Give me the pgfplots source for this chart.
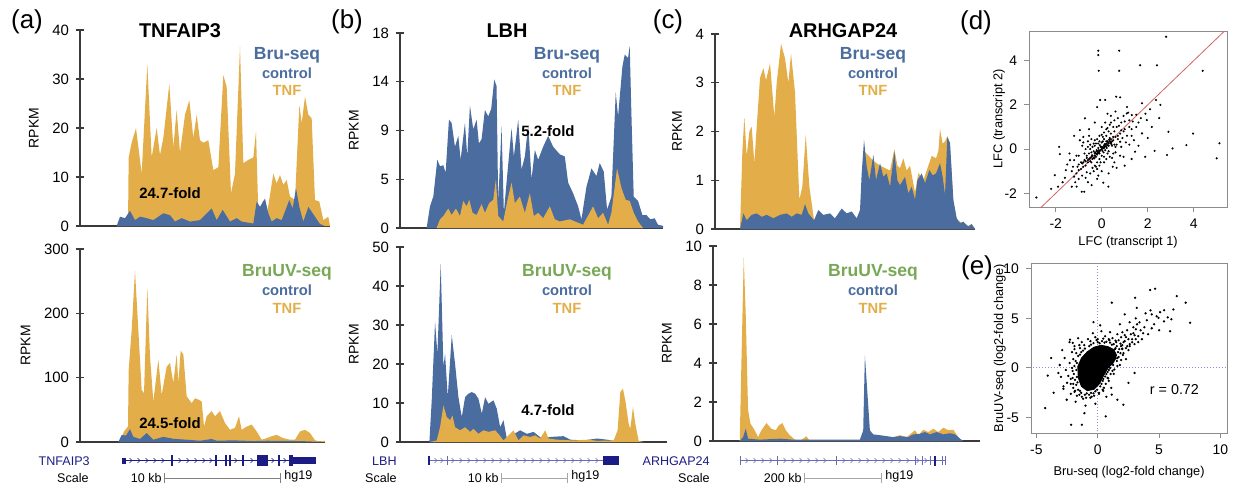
\documentclass[border=0pt]{standalone}
\usepackage{fontspec}
\setmainfont{Liberation Sans}
\usepackage{pgfplots}
\pgfplotsset{compat=1.18}
\definecolor{tnf}{HTML}{E3AE4A}
\definecolor{ctl}{HTML}{4A6C9F}
\definecolor{uvg}{HTML}{78A855}
\definecolor{gene}{HTML}{1C1C85}
\definecolor{genel}{HTML}{6A6AB5}
\definecolor{axgray}{HTML}{3A3A3A}
\definecolor{diag}{HTML}{D46262}
\definecolor{zeroline}{HTML}{8C8CE6}

\newcommand{\fs}[1]{\fontsize{#1}{#1}\selectfont}

\pgfplotsset{
  trk/.style={
    scale only axis, anchor=south west,
    axis x line=bottom, axis y line=left,
    axis line style={-, draw=axgray, line width=0.7bp},
    xtick=\empty, ymin=0,
    tick align=center, major tick length=4bp,
    ytick style={draw=axgray, line width=0.7bp},
    tick label style={font=\fs{7.5}},
    /pgf/number format/assume math mode=true,
    ylabel={RPKM}, ylabel style={font=\fs{7}},
    clip=false,
  },
  sct/.style={
    scale only axis, anchor=south west,
    axis line style={draw=gray!90, line width=0.5bp},
    tick align=outside, tick pos=left, major tick length=2.5bp,
    tick style={draw=gray!90, line width=0.5bp},
    tick label style={font=\fs{7}},
    label style={font=\fs{6.4}},
    /pgf/number format/assume math mode=true,
  },
  tnfa/.style={fill=tnf, draw=none},
  ctla/.style={fill=ctl, draw=none},
}

\begin{document}
\begin{tikzpicture}[x=0.5bp, y=-0.5bp]
\path[use as bounding box] (0,0) rectangle (1240,487);

% ---------- (a) top: TNFAIP3 Bru-seq
\begin{axis}[trk, at={(40bp,-113bp)}, width=125bp, height=98bp,
  xmin=240, xmax=990, ymax=40, ytick={0,10,20,30,40}]
\addplot[tnfa] coordinates {(350,0)(384,0)(386,14)(395,17)(408,20)(425,10.7)(442,33)(455,14)(470,20)(480,14.5)(490,18)(508,29)(520,16)(530,23.7)(540,15)(555,22.7)(568,25.7)(580,18)(590,22.7)(600,17.5)(610,17)(625,17.5)(640,11.4)(655,12)(670,30.8)(680,28.4)(693,6.7)(705,10.7)(720,36.6)(730,12.8)(745,13.5)(760,14)(768,19.3)(775,2.6)(790,5.3)(800,2)(820,10.7)(830,8.7)(840,10.4)(850,8.4)(860,9.4)(870,6)(885,5.3)(898,24.7)(905,21)(915,26.4)(925,22.7)(935,22)(945,5.3)(958,5)(970,1.2)(985,1.9)(990,0)} \closedcycle;
\addplot[ctla] coordinates {(350,0)(360,1.9)(375,1.6)(390,3.1)(405,1.2)(420,1.9)(440,1.6)(460,1.2)(490,2.6)(510,2.2)(525,0.9)(545,1.6)(570,0.9)(600,1.2)(635,3.6)(650,1.2)(668,3.3)(690,0.9)(710,1.6)(725,0.9)(760,0.5)(770,5)(780,3.9)(795,5.6)(805,2.6)(815,0.9)(830,1.6)(845,1.2)(868,5.3)(878,3.6)(888,7.7)(898,3.9)(910,0.9)(925,3.9)(945,1.9)(960,0.4)(975,0)} \closedcycle;
\end{axis}

% ---------- (a) bottom: TNFAIP3 BruUV-seq
\begin{axis}[trk, at={(40bp,-221bp)}, width=122.5bp, height=96.5bp,
  xmin=240, xmax=975, ymax=300, ytick={0,100,200,300}]
\addplot[tnfa] coordinates {(360,0)(372,16.5)(384,24)(386,112)(395,174)(405,266)(415,174)(425,81)(432,76)(442,240)(450,133)(460,63)(475,128)(485,73)(500,117)(510,123)(520,92)(530,136)(535,92)(542,142)(550,136)(560,71)(575,60.5)(585,68)(595,66)(605,63)(612,24)(620,40)(635,48)(645,40)(660,48)(675,29.5)(690,19)(705,22)(717,40)(725,19)(740,24)(755,27)(770,16.5)(785,3.6)(800,6)(815,9)(830,11)(850,6)(870,3.6)(885,3.6)(900,16.5)(915,19)(930,14)(945,2.6)(960,1)(975,2)(975,0)} \closedcycle;
\addplot[ctla] coordinates {(355,0)(365,11)(378,10)(390,20)(400,8)(420,4.7)(440,14)(460,3.6)(490,8)(520,5)(560,3.6)(600,2)(635,4.7)(650,2)(700,2.6)(760,1.5)(800,2)(900,1.5)(950,0.5)(960,0)} \closedcycle;
\end{axis}

% ---------- (b) top: LBH Bru-seq
\begin{axis}[trk, at={(200bp,-114bp)}, width=131.5bp, height=97.5bp,
  xmin=210, xmax=1000, ymax=18, ytick={0,4.5,9,13.5,18}, yticklabels={0,5,9,14,18}]
\addplot[ctla] coordinates {(290,0)(300,2)(310,2.9)(322,6.3)(330,5.7)(340,5.8)(347,5.1)(357,10)(365,9.7)(375,7.5)(385,8.5)(392,6.3)(405,9.7)(412,6.6)(420,11.3)(430,9.1)(440,10)(447,7.8)(455,8.2)(465,10.9)(475,10.3)(484,11)(493,13.7)(500,13.1)(505,2.3)(515,9.4)(522,1.4)(530,4.2)(545,9.2)(552,6.6)(565,10)(575,5.4)(585,6.6)(595,9.5)(605,4.5)(615,7.2)(625,6.3)(640,7.5)(655,8.5)(670,7.5)(690,6.8)(705,6.6)(715,4.2)(730,3.2)(745,2)(755,0.8)(770,3.8)(785,5.5)(800,4.8)(810,6)(822,5.2)(832,1.7)(845,2.9)(858,12.5)(865,10.3)(878,14.9)(885,16)(895,15.7)(900,16.8)(905,10.6)(912,2.9)(925,2.5)(938,1.2)(950,1.2)(962,0.8)(975,0.9)(985,0.3)(1000,0.2)(1000,0)} \closedcycle;
\addplot[tnfa] coordinates {(320,0)(330,0.8)(340,1.1)(355,1.8)(365,1.2)(378,1.8)(390,1.1)(400,2.5)(410,2)(418,2.6)(428,1.4)(440,1.2)(455,2.2)(465,1.4)(478,2.3)(490,2.6)(498,4.5)(505,1.1)(520,0.6)(533,2.6)(545,4.2)(555,2.3)(570,2.9)(585,1.4)(600,3.2)(612,1.1)(625,1.4)(640,0.9)(660,2)(675,0.8)(690,0.6)(720,0.8)(760,0.3)(790,2)(805,0.9)(820,1.4)(835,0.3)(845,1.4)(862,5.5)(875,3.7)(888,2.6)(900,2.5)(912,1.4)(925,0.6)(940,0)} \closedcycle;
\end{axis}

% ---------- (b) bottom: LBH BruUV-seq
\begin{axis}[trk, at={(200bp,-221bp)}, width=133.5bp, height=97.5bp,
  xmin=210, xmax=1010, ymax=50, ytick={0,10,20,30,40,50}]
\addplot[ctla] coordinates {(298,0)(305,10.7)(315,30.8)(322,22.6)(332,45.7)(340,19.2)(345,22.6)(353,11.5)(365,27.4)(375,20)(385,11.5)(395,6.4)(405,11.5)(415,12.4)(425,12.8)(435,12.4)(445,11.1)(455,7.3)(465,11.5)(475,9.8)(490,10.7)(500,8.5)(510,3.8)(520,5.6)(530,0.9)(545,1.7)(570,3)(590,2.1)(610,2.6)(635,0.9)(660,1.3)(700,1.5)(720,0.6)(760,0.4)(800,0.9)(830,0.6)(850,0.3)(870,0)} \closedcycle;
\addplot[tnfa] coordinates {(300,0)(320,0.4)(330,3.8)(340,9.4)(350,6.4)(360,5.6)(367,6.8)(375,3.8)(390,3)(405,3.8)(420,2.6)(430,3.4)(445,2.1)(460,3)(475,2.6)(495,3)(505,2.1)(520,0.4)(535,1.7)(550,3)(565,0.4)(580,1.7)(600,1.3)(615,1.7)(630,0.9)(645,3)(655,0.9)(680,0.6)(730,0.4)(775,0.6)(800,0.3)(850,0.4)(862,3)(870,12.8)(878,13.7)(885,10.7)(895,4.7)(900,3.4)(908,9)(915,4.7)(925,0.3)(940,0)} \closedcycle;
\end{axis}

% ---------- (c) top: ARHGAP24 Bru-seq
\begin{axis}[trk, at={(357.5bp,-114.5bp)}, width=130bp, height=97.5bp,
  xmin=165, xmax=945, ymax=4, ytick={0,1,2,3,4}]
\addplot[tnfa] coordinates {(240,0)(247,1.6)(253,2.3)(260,1.5)(268,2.0)(275,2.1)(283,1.35)(290,2.1)(300,3.1)(310,3.3)(318,3.05)(330,3.4)(343,2.3)(350,3.0)(363,3.8)(375,3.5)(385,3.0)(393,3.6)(405,2.8)(418,0.6)(427,0.87)(437,1.93)(448,0.87)(462,0.18)(470,0)(600,0)(604,0.3)(612,1.6)(640,1.4)(660,1.3)(690,1.2)(703,1.64)(712,1.3)(720,1.25)(730,1.45)(740,1.2)(750,1.3)(765,0.75)(775,1.15)(790,1.0)(805,1.3)(815,1.5)(828,1.45)(835,1.6)(840,2.05)(848,1.75)(855,1.8)(862,1.9)(870,1.7)(880,0.55)(890,0.2)(920,0.05)(935,0.1)(945,0)} \closedcycle;
\addplot[ctla] coordinates {(240,0)(250,0.32)(260,0.18)(275,0.29)(290,0.32)(305,0.25)(320,0.29)(340,0.22)(360,0.29)(380,0.32)(395,0.25)(410,0.32)(425,0.29)(435,0.51)(445,0.32)(462,0.18)(475,0.39)(490,0.29)(510,0.32)(525,0.22)(545,0.42)(560,0.32)(575,0.36)(590,0.22)(600,0.39)(605,1.14)(612,1.83)(620,1.28)(628,1.0)(640,1.52)(648,1.0)(660,1.35)(670,1.07)(680,1.14)(690,0.87)(703,1.59)(712,1.0)(720,0.9)(735,1.07)(745,0.73)(755,0.87)(765,0.6)(772,1.0)(785,1.14)(795,0.94)(808,1.21)(818,1.1)(828,1.14)(840,1.35)(848,1.07)(855,0.7)(862,1.9)(870,1.76)(880,0.6)(890,0.22)(900,0.12)(910,0.15)(925,0.05)(935,0.1)(945,0)} \closedcycle;
\end{axis}

% ---------- (c) bottom: ARHGAP24 BruUV-seq
\begin{axis}[trk, at={(356.5bp,-220.5bp)}, width=133.5bp, height=97.5bp,
  xmin=160, xmax=960, ymax=10, ytick={0,2,4,6,8,10}]
\addplot[tnfa] coordinates {(240,0)(245,4)(252,9.4)(258,6.5)(265,1.6)(272,0.9)(285,0.55)(295,0.2)(305,0.55)(320,0.92)(335,0.63)(348,0.55)(357,0.8)(368,0.92)(378,0.55)(390,0.3)(405,0.07)(420,0)(440,0.24)(450,0)(690,0)(700,0.2)(720,0.3)(740,0.2)(765,0.55)(775,0.3)(790,0.58)(805,0.46)(820,0.63)(835,0.46)(850,0.68)(865,0.55)(880,0.58)(895,0.2)(905,0)} \closedcycle;
\addplot[ctla] coordinates {(240,0)(250,0.2)(258,0.63)(265,0.12)(300,0.07)(360,0.12)(400,0.07)(480,0.07)(600,0.07)(610,0.55)(615,4.4)(622,2.6)(630,0.55)(640,0.34)(660,0.3)(680,0.25)(700,0.2)(720,0.25)(745,0.2)(760,0.34)(780,0.37)(795,0.46)(810,0.34)(830,0.46)(850,0.34)(870,0.4)(885,0.34)(900,0.12)(910,0)} \closedcycle;
\end{axis}

% ---------- (d) scatter LFC
\begin{axis}[sct, at={(514.5bp,-103.5bp)}, width=99bp, height=88bp,
  xmin=-3.16, xmax=5.45, ymin=-2.62, ymax=5.34,
  xtick={-2,0,2,4}, ytick={-2,0,2,4},
  xlabel={LFC (transcript 1)}, ylabel={LFC (transcript 2)},
  xlabel style={yshift=3bp}, ylabel style={yshift=-7bp}]
\addplot[only marks, mark=*, mark size=0.3bp, black] coordinates {
(-0.1,-0.1)(0.05,0.02)(0.1,0.15)(-0.2,-0.25)(0.2,0.1)(-0.3,-0.2)(0.3,0.25)(-0.05,0.1)(0.15,-0.05)(-0.15,0.05)
(0.25,0.35)(-0.25,-0.35)(0.4,0.3)(-0.4,-0.45)(0.35,0.5)(-0.35,-0.1)(0.5,0.4)(-0.5,-0.4)(0.45,0.15)(-0.45,-0.6)
(0.6,0.55)(-0.6,-0.5)(0.1,0.45)(-0.1,-0.45)(0.3,-0.1)(-0.3,0.15)(0.55,0.8)(-0.55,-0.2)(0.7,0.45)(-0.7,-0.75)
(0.0,0.3)(0.0,-0.3)(0.2,0.6)(-0.2,-0.6)(0.4,0.7)(-0.4,0.1)(0.65,0.2)(-0.65,-0.3)(0.8,0.7)(-0.8,-0.6)
(0.1,-0.35)(-0.1,0.35)(0.25,-0.2)(-0.25,0.25)(0.5,1.0)(-0.5,0.2)(0.9,0.5)(-0.9,-0.9)(0.75,1.05)(-0.75,-0.2)
(1.0,0.9)(-1.0,-0.7)(0.2,0.9)(-0.2,-0.9)(0.6,-0.15)(-0.6,0.35)(1.1,0.6)(-1.1,-1.1)(0.35,1.1)(-0.35,-1.0)
(0.05,0.55)(-0.05,-0.6)(0.45,-0.4)(-0.45,0.45)(1.2,1.3)(-1.2,-0.5)(0.85,0.1)(-0.85,0.15)(0.15,1.2)(-0.15,-1.2)
(1.3,0.9)(-1.3,-1.0)(0.7,1.4)(-0.7,-1.3)(0.95,1.5)(-0.95,0.4)(1.4,0.4)(-1.4,-0.2)(0.3,0.8)(-0.3,-0.75)
(0.55,-0.6)(-0.55,0.6)(1.15,1.65)(-1.15,-1.5)(0.0,1.0)(0.0,-1.0)(0.8,-0.3)(-0.8,0.55)(1.6,1.2)(-1.6,-1.3)
(0.12,0.22)(-0.12,-0.18)(0.22,0.05)(-0.22,-0.05)(0.08,-0.15)(-0.08,0.18)(0.32,0.42)(-0.32,-0.42)(0.42,0.22)(-0.42,-0.28)
(-0.6,-0.6)(-0.55,-0.45)(-0.5,-0.55)(-0.45,-0.35)(-0.4,-0.3)(-0.35,-0.4)(-0.3,-0.3)(-0.28,-0.15)(-0.25,-0.2)(-0.2,-0.1)
(-0.18,-0.2)(-0.15,-0.15)(-0.12,-0.05)(-0.1,-0.2)(-0.05,-0.05)(0.0,0.0)(0.0,0.1)(0.03,-0.08)(0.06,0.08)(0.1,0.05)
(0.12,0.1)(0.15,0.2)(0.18,0.12)(0.2,0.25)(0.24,0.18)(0.28,0.3)(0.3,0.15)(0.35,0.35)(0.38,0.28)(0.4,0.45)
(0.45,0.35)(0.5,0.55)(-0.65,-0.4)(-0.7,-0.55)(-0.75,-0.5)(-0.8,-0.8)(-0.85,-0.65)(-0.9,-0.6)(-1.0,-0.95)(-1.05,-0.8)
(-0.3,0.4)(-0.2,0.45)(-0.1,0.6)(0.0,0.65)(0.1,0.75)(0.25,0.95)(0.4,1.2)(0.55,1.3)(0.65,1.0)(0.85,1.2)
(1.0,1.25)(1.05,0.3)(0.95,0.8)(0.6,0.1)(0.5,-0.2)(0.35,-0.35)(0.2,-0.45)(0.1,-0.6)(-0.1,-0.75)(-0.25,-0.8)
(-0.4,-0.85)(-0.5,-1.1)(-0.65,-1.05)(-0.85,-1.2)(-1.0,-1.35)(-1.2,-1.25)(-1.25,-0.8)(-1.0,-0.3)(-0.7,0.0)(-0.5,0.0)
(-0.45,-0.15)(-0.6,0.1)(-0.35,0.25)(-0.15,0.25)(0.05,0.35)(0.2,0.35)(0.55,0.2)(0.7,0.6)(0.85,0.85)(1.2,1.0)
(1.35,1.25)(1.5,1.55)(1.7,1.4)(1.9,1.6)(2.1,1.8)(1.3,0.6)(1.1,1.9)(0.4,1.5)(0.25,1.6)(-0.3,1.2)
(-0.55,0.9)(-0.8,0.3)(-1.1,-0.3)(-1.5,-0.7)(-1.7,-1.5)(-1.9,-1.7)(-2.2,-1.8)(-1.3,-1.7)(-0.2,-1.35)(0.3,-1.1)
(0.65,-0.85)(1.0,-0.75)(1.3,-0.45)(1.6,0.15)(2.0,0.5)(2.5,1.4)
(-0.15,4.45)(-0.15,4.25)(0.76,4.45)(-0.13,3.54)(0.76,3.54)(1.67,3.79)(2.4,3.79)(2.8,5.08)(4.39,3.54)
(0.63,2.37)(0.8,2.34)(-0.07,2.22)(0.15,2.22)(-0.2,1.9)(2.36,2.22)(2.55,2.0)(1.75,2.07)(2.9,0.78)
(3.97,0.7)(5.12,0.26)(5.0,-0.42)(3.68,0.18)(3.08,0.03)(2.84,-0.27)(2.3,-0.08)(1.89,-0.35)(1.45,-0.12)
(-2.84,-2.19)(-2.04,-1.18)(-1.85,0.1)(-1.82,-0.23)(-1.09,-1.7)(-0.87,-1.93)(-0.76,-1.93)(-0.73,1.39)
(-0.95,0.86)(-1.38,-0.5)(-1.56,-0.95)(1.75,0.71)(1.09,1.61)(1.31,1.54)(1.5,1.0)(1.96,1.31)(2.18,1.0)
(0.29,-1.7)(0.07,-1.52)(-0.44,-1.63)(0.48,-0.8)(0.95,-0.35)(0.8,0.33)(1.2,0.2)(-1.2,0.6)(0.6,1.7)(-0.6,-1.5)};
\addplot[diag, line width=0.4bp] coordinates {(-3.2,-3.2)(5.6,5.6)};
\end{axis}

% ---------- (e) scatter Bru-seq vs BruUV-seq
\begin{axis}[sct, at={(515.5bp,-216.5bp)}, width=98bp, height=85bp,
  xmin=-5.44, xmax=10.54, ymin=-6.55, ymax=10.57,
  xtick={-5,0,5,10}, ytick={-5,0,5,10},
  xlabel={Bru-seq (log2-fold change)}, ylabel={BruUV-seq (log2-fold change)},
  xlabel style={yshift=1bp}, ylabel style={yshift=-8bp}]
\addplot[zeroline, densely dotted, line width=0.5bp] coordinates {(0,-7)(0,11)};
\addplot[zeroline, densely dotted, line width=0.5bp] coordinates {(-6,0)(11,0)};
\addplot[fill=black, draw=black] coordinates {(-1.59,-1.0)(-1.63,0.14)(-1.33,1.0)(-0.86,1.63)(-0.31,2.09)(0.27,2.29)(0.84,2.15)(1.3,1.86)(1.53,1.29)(1.3,0.57)(0.84,0)(0.5,-0.71)(0.15,-1.57)(-0.31,-2.15)(-0.86,-2.29)(-1.33,-1.86)} -- cycle;
\addplot[only marks, mark=*, mark size=0.35bp, black] coordinates {
(-1.85,-1.2)(-1.95,-0.6)(-1.9,0.2)(-1.8,0.7)(-1.6,1.2)(-1.35,1.6)(-1.05,1.95)(-0.7,2.2)(-0.35,2.5)(0.0,2.6)(0.35,2.7)(0.7,2.65)(1.0,2.55)(1.3,2.4)(1.55,2.2)(1.75,1.9)(1.85,1.5)(1.7,1.1)(1.55,0.7)(1.25,0.3)(1.0,0.0)(0.8,-0.4)(0.6,-0.85)(0.4,-1.3)(0.2,-1.85)(-0.05,-2.2)(-0.35,-2.55)(-0.7,-2.7)(-1.05,-2.7)(-1.35,-2.5)(-1.6,-2.2)(-1.75,-1.7)
(-1.7,-0.9)(-1.75,-0.2)(-1.7,0.5)(-1.45,1.35)(-1.2,1.75)(-0.55,2.35)(0.15,2.5)(0.55,2.55)(1.15,2.35)(1.45,2.0)(1.65,1.6)(1.45,0.95)(1.1,0.4)(0.9,-0.2)(0.7,-0.6)(0.45,-1.1)(0.3,-1.6)(-0.2,-2.35)(-0.55,-2.5)(-0.9,-2.55)(-1.45,-2.3)(-1.65,-1.45)
(-2.05,-0.3)(-2.0,0.9)(-1.75,1.5)(-1.45,2.0)(-1.1,2.3)(-0.6,2.7)(-0.1,2.8)(0.45,2.95)(0.95,2.8)(1.45,2.75)(1.85,2.45)(2.0,1.95)(2.05,1.3)(1.9,0.8)(1.6,0.2)(1.35,-0.15)(1.05,-0.6)(0.85,-1.05)(0.65,-1.6)(0.45,-2.3)(0.1,-2.5)(-0.5,-2.9)(-0.95,-3.0)(-1.5,-2.7)(-1.85,-2.3)(-2.0,-1.6)(-2.05,-1.0)
(1.9,2.2)(2.1,2.6)(2.3,2.0)(2.5,2.9)(2.6,2.2)(2.8,2.6)(2.9,3.5)(3.1,3.9)(3.3,3.2)(3.4,4.6)(3.7,3.5)(3.0,2.4)(2.2,3.3)(2.0,3.6)
(-2.3,0.5)(-2.4,-0.8)(-2.1,1.6)(-2.0,-2.0)(-1.9,2.2)(-1.7,-2.8)(-1.3,2.6)(-1.2,-3.1)(-0.8,2.9)(-0.6,-3.0)(-0.2,3.1)(0.1,-2.6)(0.6,3.2)(0.5,-2.0)(1.2,3.0)(0.9,-1.3)(1.7,2.8)(1.3,-0.6)(2.0,2.3)(1.8,0.3)(2.1,1.5)(2.3,0.9)(-2.6,-0.2)(-2.7,1.0)(-2.5,-1.5)(-2.2,-2.6)(-1.6,3.0)(-0.4,3.5)(0.3,3.7)(1.0,3.6)(1.6,3.4)(2.3,3.1)(2.6,2.4)(2.5,1.8)(2.8,2.9)(3.0,3.3)(2.4,3.8)(3.3,2.6)(1.1,-2.0)(0.7,-2.9)(-0.2,-3.6)(-1.0,-3.8)(-1.8,-3.4)(-2.8,-2.1)(-3.0,-0.9)(-3.1,0.3)(-2.9,1.8)(-2.3,2.6)
(-2.1,0.0)(-2.2,-1.1)(-1.9,1.9)(-1.5,2.3)(0.0,2.9)(0.9,2.9)(1.5,2.6)(2.0,1.9)(1.6,1.0)(1.2,-0.3)(0.8,-1.0)(0.4,-2.2)(-0.3,-2.8)(-1.3,-2.9)(-1.9,-2.4)(-2.2,-1.6)(2.2,2.7)(1.9,3.1)(2.7,3.4)(3.1,2.9)(1.4,1.9)(2.4,2.2)
(3.5,3.8)(3.8,4.1)(3.2,4.4)(4.1,3.4)(4.4,4.0)(3.6,2.9)(4.0,4.8)(2.9,4.1)(4.6,4.4)(5.0,3.8)(4.8,5.2)(5.4,4.7)(3.1,5.0)(2.6,4.6)(3.9,5.5)(5.7,5.1)(4.3,5.8)(6.0,4.9)
(4.27,7.85)(4.67,7.98)(3.04,7.07)(6.44,7.24)(7.17,6.57)(7.53,4.55)(1.14,6.57)(5.08,5.62)(5.41,5.82)(4.4,5.39)(4.95,5.05)(5.9,3.7)(6.17,5.89)(3.18,6.06)(-0.35,4.61)
(-4.08,-0.77)(-4.29,-4.04)(-3.21,-0.5)(-2.17,-5.72)(-1.3,-5.72)(-1.09,-4.55)(0.65,-4.88)(2.09,-3.7)(1.14,-2.69)(-2.04,2.53)(-2.26,2.86)(-2.8,-1.85)(-2.53,-3.2)(1.6,-3.2)(2.5,-1.5)(3.0,-0.5)(-3.6,-2.5)(-3.8,1.0)(0.2,4.3)(1.8,4.4)(2.2,5.4)};
\node[font=\fs{7.2}] at (axis cs:6.25,-2.19) {r = 0.72};
\end{axis}

% ---------- titles, panel letters, legends
\node[font=\bfseries\fs{10}] at (180,31) {TNFAIP3};
\node[font=\bfseries\fs{10}] at (507,31) {LBH};
\node[font=\bfseries\fs{10}] at (843,31) {ARHGAP24};
\foreach \t/\x/\y in {a/27/22, b/347/22, c/668/22, d/976/23, e/977/268}
  \node[font=\fs{13}] at (\x,\y) {(\t)};
\foreach \x in {287,567,873} {
  \node[font=\bfseries\fs{8.8}, text=ctl] at (\x,55) {Bru-seq};
  \node[font=\bfseries\fs{7.4}, text=ctl] at (\x,73) {control};
  \node[font=\bfseries\fs{7.4}, text=tnf] at (\x,90) {TNF};
  \node[font=\bfseries\fs{8.8}, text=uvg] at (\x,272) {BruUV-seq};
  \node[font=\bfseries\fs{7.4}, text=ctl] at (\x,290) {control};
  \node[font=\bfseries\fs{7.4}, text=tnf] at (\x,308) {TNF};
}
\node[font=\bfseries\fs{7.5}] at (170,193) {24.7-fold};
\node[font=\bfseries\fs{7.5}] at (170,423) {24.5-fold};
\node[font=\bfseries\fs{7.5}] at (548,131) {5.2-fold};
\node[font=\bfseries\fs{7.5}] at (548,410) {4.7-fold};

% ---------- gene tracks
\begin{scope}[font=\fs{6.3}]
% TNFAIP3
\node[anchor=east, text=gene, inner sep=0] at (90,461) {TNFAIP3};
\node[anchor=east, inner sep=0] at (89,478) {Scale};
\draw[gene, line width=0.4bp] (123,460.5) -- (316,460.5);
\foreach \x in {131,139,147,155,163,180,188,196,204,211,236,252,273,285}
  \draw[gene, line width=0.3bp] (\x-1.5,458) -- (\x+1,460.5) -- (\x-1.5,463);
\fill[gene] (122,457.5) rectangle (126,463.5);
\foreach \a in {171,215,225,228.5,241.5,278}
  \fill[gene] (\a,455) rectangle (\a+2,466);
\fill[gene] (257,455) rectangle (268,466);
\fill[gene] (289,454.5) rectangle (293,466);
\fill[gene] (293,457) rectangle (316,463.5);
\node[anchor=east, inner sep=0] at (162,478) {10 kb};
\draw[gray, line width=0.4bp] (164,478) -- (280,478) (164,473) -- (164,483) (280,473) -- (280,483);
\node[anchor=west, inner sep=0] at (284,476) {hg19};
% LBH
\node[anchor=east, text=gene, inner sep=0] at (397,461) {LBH};
\node[anchor=east, inner sep=0] at (397,478) {Scale};
\draw[genel, line width=0.35bp] (428,460.5) -- (603,460.5);
\foreach \x in {436,442,453,461,469,477,485,493,501,509,517,525,533,541,549,557,565,573,581,589,597}
  \draw[genel, line width=0.3bp] (\x-1.5,458) -- (\x+1,460.5) -- (\x-1.5,463);
\fill[gene] (428,456) rectangle (429.5,465);
\draw[genel, line width=0.4bp] (447,456) -- (447,465);
\fill[gene] (603,455.5) rectangle (619,464.5);
\node[anchor=east, inner sep=0] at (499,478) {10 kb};
\draw[gray!70, line width=0.4bp] (501,478) -- (567,478) (501,473) -- (501,483) (567,473) -- (567,483);
\node[anchor=west, inner sep=0] at (571,476) {hg19};
% ARHGAP24
\node[anchor=east, text=gene, inner sep=0] at (710,461) {ARHGAP24};
\node[anchor=east, inner sep=0] at (710,478) {Scale};
\draw[genel, line width=0.35bp] (740,460.5) -- (945,460.5);
\foreach \x in {747,755,763,771,785,793,801,809,817,825,844,852,860,868,876,884,892,900,908,918,926}
  \draw[genel, line width=0.3bp] (\x-1.5,458) -- (\x+1,460.5) -- (\x-1.5,463);
\foreach \x in {740,777,836,915,922,930,942,945}
  \draw[genel, line width=0.45bp] (\x,456) -- (\x,465);
\fill[gene] (934,455.5) rectangle (936,465.5);
\node[anchor=east, inner sep=0] at (802,478) {200 kb};
\draw[gray!70, line width=0.4bp] (804,478) -- (881,478) (804,473) -- (804,483) (881,473) -- (881,483);
\node[anchor=west, inner sep=0] at (885,476) {hg19};
\end{scope}
\end{tikzpicture}
\end{document}
